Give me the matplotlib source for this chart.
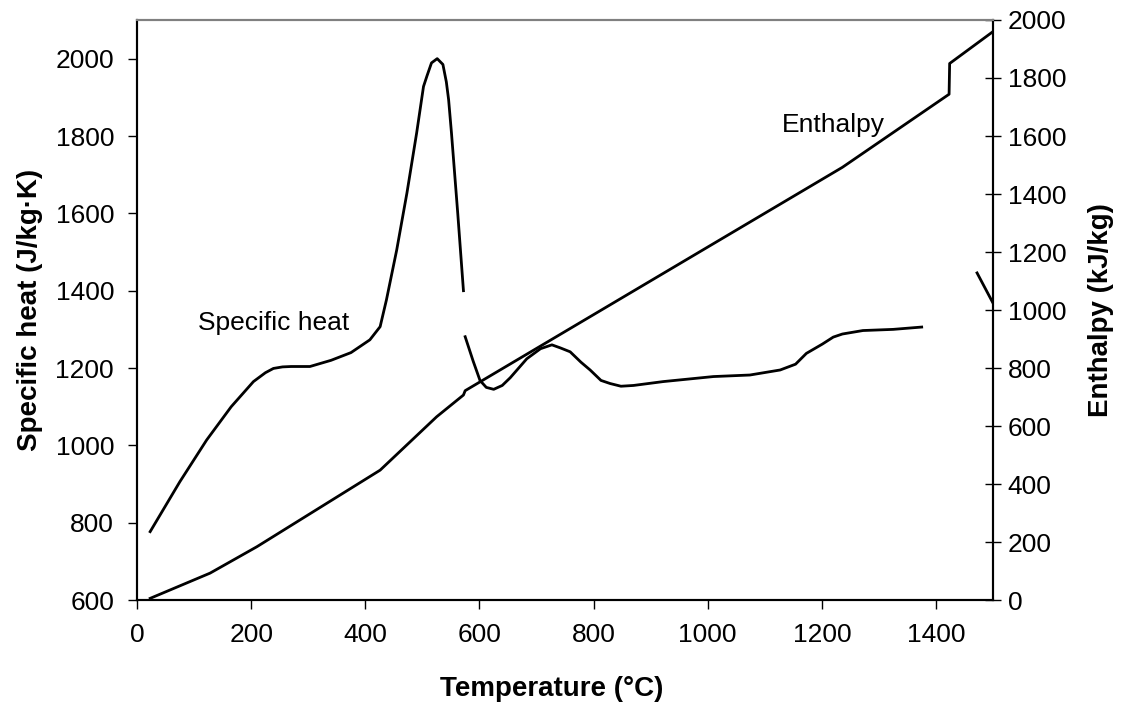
import numpy as np
import matplotlib.pyplot as plt

plt.rcParams["font.family"] = ["Liberation Sans", "DejaVu Sans"]

# Specific heat (J/kg.K), three separate pieces
temp_cp1 = [23, 75, 122, 165, 204, 225, 239, 255, 270, 303, 340, 375, 408,
            426, 437, 455, 473, 490, 502, 508, 516, 526, 536, 542, 546, 551,
            562, 572]
cp1 = [777, 906, 1014, 1100, 1165, 1188, 1199, 1203, 1204, 1204, 1220, 1240,
       1273, 1307, 1376, 1505, 1653, 1808, 1928, 1955, 1989, 2000, 1985, 1940,
       1894, 1808, 1600, 1400]

temp_cp2 = [575, 589, 601, 612, 625, 640, 654, 683, 707, 727, 742, 759, 778,
            794, 813, 829, 848, 870, 922, 1010, 1074, 1127, 1154, 1173, 1201,
            1220, 1236, 1272, 1325, 1375]
cp2 = [1281, 1218, 1168, 1150, 1145, 1155, 1175, 1224, 1250, 1260, 1252, 1242,
       1215, 1195, 1168, 1160, 1153, 1155, 1165, 1178, 1182, 1195, 1210, 1238,
       1262, 1280, 1288, 1297, 1300, 1306]

temp_cp3 = [1472, 1500]
cp3 = [1446, 1368]

# Enthalpy (kJ/kg)
temp_h = [23, 128, 210, 426, 525, 572, 573, 575, 1236, 1423, 1424, 1500]
enthalpy = [6, 93, 184, 448, 632, 707, 712, 722, 1492, 1744, 1850, 1960]

x_ticks = [0, 200, 400, 600, 800, 1000, 1200, 1400]
cp_ticks = [600, 800, 1000, 1200, 1400, 1600, 1800, 2000]
h_ticks = [0, 200, 400, 600, 800, 1000, 1200, 1400, 1600, 1800, 2000]

fig = plt.figure(figsize=(11.26, 7.06), dpi=100)
ax = fig.add_axes([0.1217, 0.150, 0.7602, 0.8217])
ax2 = ax.twinx()

lw = 2.0
ax.plot(temp_cp1, cp1, color="black", lw=lw)
ax.plot(temp_cp2, cp2, color="black", lw=lw)
ax.plot(temp_cp3, cp3, color="black", lw=lw)
ax2.plot(temp_h, enthalpy, color="black", lw=lw)

ax.set_xlim(0, 1500)
ax.set_ylim(600, 2100)
ax2.set_ylim(0, 2000)
ax.set_xticks(x_ticks)
ax.set_yticks(cp_ticks)
ax2.set_yticks(h_ticks)

fs = 19
lfs = 20
ax.tick_params(axis="x", direction="out", length=6.5, width=1, labelsize=fs, pad=10)
ax.tick_params(axis="y", direction="out", length=6.5, width=1, labelsize=fs, pad=10)
ax2.tick_params(axis="y", direction="inout", length=11, width=1, labelsize=fs, pad=5)

for a in (ax, ax2):
    a.spines["top"].set_color("#808080")
    a.spines["top"].set_linewidth(1.5)
    for s in ("left", "right", "bottom"):
        a.spines[s].set_color("black")
        a.spines[s].set_linewidth(1.5)

ax.set_xlabel("Temperature (°C)", fontsize=lfs, fontweight="bold")
ax.xaxis.label.set_va("center")
ax.xaxis.set_label_coords(0.484, -0.153)
ax.set_ylabel("Specific heat (J/kg·K)", fontsize=lfs, fontweight="bold", labelpad=9)
ax2.set_ylabel("Enthalpy (kJ/kg)", fontsize=lfs, fontweight="bold", labelpad=16)

ax.text(107, 1317, "Specific heat", fontsize=fs, va="center", ha="left")
ax.text(1130, 1829, "Enthalpy", fontsize=fs, va="center", ha="left")

fig.savefig("out.png", dpi=100)
